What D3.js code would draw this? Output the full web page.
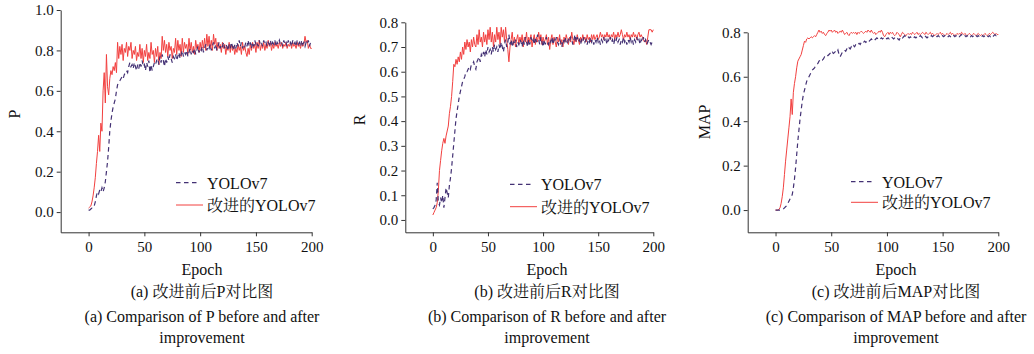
<!DOCTYPE html>
<html><head><meta charset="utf-8">
<script src="https://cdn.jsdelivr.net/npm/d3@7"></script>
<style>
body{margin:0;background:#fff}
text{font-family:"Liberation Serif","Times New Roman","Noto Serif CJK SC","Noto Sans CJK SC",serif;fill:#111}
</style>
</head><body>
<svg id="c" width="1034" height="354"></svg>
<script>
const epochs = d3.range(0, 201);
const xTicks = [0, 50, 100, 150, 200];
const pTicks = [0.0, 0.2, 0.4, 0.6, 0.8, 1.0];
const rTicks = [0.0, 0.1, 0.2, 0.3, 0.4, 0.5, 0.6, 0.7, 0.8];
const mapTicks = [0.0, 0.2, 0.4, 0.6, 0.8];
const legendLabels = ["YOLOv7", "改进的YOLOv7"];

const pImproved = [
0.02,0.025,0.03,0.05,0.08,0.12,0.17,0.24,0.30,0.38,
0.30,0.44,0.40,0.60,0.69,0.54,0.78,0.62,0.58,0.66,
0.70,0.68,0.72,0.70,0.74,0.69,0.84,0.76,0.82,0.78,
0.83,0.75,0.81,0.79,0.84,0.77,0.82,0.80,0.84,0.76,
0.80,0.78,0.82,0.75,0.79,0.77,0.83,0.76,0.81,0.74,
0.80,0.77,0.83,0.75,0.79,0.76,0.84,0.78,0.80,0.74,
0.81,0.77,0.82,0.73,0.79,0.76,0.87,0.80,0.85,0.79,
0.83,0.77,0.84,0.80,0.82,0.76,0.81,0.79,0.86,0.78,
0.85,0.80,0.83,0.77,0.86,0.79,0.84,0.81,0.83,0.78,
0.86,0.80,0.84,0.79,0.82,0.78,0.85,0.81,0.83,0.79,
0.84,0.80,0.85,0.81,0.86,0.80,0.88,0.82,0.87,0.81,
0.85,0.80,0.88,0.83,0.86,0.80,0.84,0.81,0.83,0.79,
0.84,0.81,0.83,0.78,0.82,0.80,0.84,0.79,0.83,0.80,
0.82,0.78,0.81,0.79,0.83,0.80,0.82,0.78,0.84,0.80,
0.82,0.79,0.77,0.81,0.78,0.83,0.80,0.84,0.81,0.83,
0.79,0.84,0.81,0.85,0.80,0.83,0.81,0.84,0.80,0.83,
0.81,0.85,0.82,0.84,0.80,0.83,0.81,0.84,0.82,0.83,
0.81,0.84,0.82,0.84,0.81,0.83,0.82,0.84,0.81,0.83,
0.82,0.84,0.81,0.84,0.82,0.83,0.81,0.84,0.82,0.83,
0.81,0.84,0.82,0.83,0.87,0.84,0.85,0.81,0.83,0.81,
0.81];

const pYolo = [
0.01,0.01,0.015,0.02,0.02,0.03,0.05,0.08,0.10,0.09,
0.11,0.10,0.12,0.10,0.12,0.15,0.20,0.25,0.32,0.40,
0.45,0.49,0.52,0.54,0.56,0.60,0.63,0.64,0.65,0.66,
0.67,0.66,0.68,0.69,0.70,0.69,0.72,0.74,0.72,0.73,
0.71,0.74,0.72,0.70,0.73,0.71,0.74,0.72,0.75,0.72,
0.73,0.70,0.74,0.72,0.75,0.69,0.73,0.70,0.72,0.74,
0.73,0.75,0.76,0.73,0.77,0.74,0.78,0.75,0.72,0.76,
0.74,0.77,0.75,0.78,0.76,0.74,0.77,0.76,0.78,0.75,
0.77,0.79,0.76,0.78,0.80,0.77,0.79,0.78,0.80,0.77,
0.79,0.81,0.78,0.80,0.79,0.81,0.78,0.80,0.82,0.79,
0.81,0.80,0.82,0.79,0.81,0.83,0.80,0.82,0.81,0.83,
0.80,0.82,0.84,0.81,0.83,0.80,0.82,0.84,0.81,0.83,
0.82,0.84,0.81,0.83,0.82,0.80,0.83,0.81,0.84,0.82,
0.80,0.83,0.81,0.84,0.82,0.85,0.82,0.84,0.81,0.83,
0.82,0.84,0.82,0.85,0.82,0.84,0.81,0.84,0.82,0.85,
0.83,0.84,0.82,0.85,0.83,0.84,0.82,0.85,0.83,0.84,
0.82,0.84,0.83,0.85,0.82,0.84,0.83,0.85,0.82,0.84,
0.83,0.85,0.83,0.84,0.82,0.85,0.83,0.84,0.82,0.85,
0.83,0.84,0.82,0.85,0.83,0.84,0.82,0.85,0.83,0.84,
0.82,0.85,0.83,0.84,0.82,0.84,0.83,0.85,0.82,0.84,
0.83];

const rImproved = [
0.02,0.03,0.04,0.05,0.07,0.12,0.20,0.24,0.28,0.31,
0.33,0.31,0.34,0.36,0.38,0.43,0.46,0.50,0.56,0.63,
0.62,0.65,0.63,0.66,0.64,0.68,0.65,0.70,0.67,0.72,
0.69,0.73,0.70,0.72,0.68,0.73,0.70,0.74,0.71,0.70,
0.75,0.71,0.77,0.72,0.74,0.70,0.76,0.72,0.75,0.71,
0.77,0.73,0.78,0.72,0.76,0.70,0.75,0.72,0.78,0.73,
0.76,0.71,0.78,0.74,0.77,0.72,0.78,0.73,0.69,0.64,
0.70,0.73,0.76,0.71,0.74,0.70,0.73,0.75,0.71,0.74,
0.72,0.75,0.70,0.74,0.72,0.76,0.71,0.74,0.72,0.75,
0.70,0.73,0.75,0.71,0.74,0.72,0.76,0.73,0.75,0.71,
0.74,0.72,0.73,0.75,0.71,0.74,0.69,0.73,0.75,0.71,
0.74,0.72,0.70,0.74,0.72,0.75,0.71,0.73,0.70,0.74,
0.72,0.75,0.73,0.71,0.74,0.72,0.76,0.73,0.71,0.74,
0.72,0.75,0.73,0.71,0.74,0.72,0.75,0.73,0.74,0.72,
0.75,0.73,0.74,0.72,0.75,0.73,0.75,0.73,0.74,0.75,
0.73,0.74,0.76,0.74,0.75,0.73,0.75,0.74,0.76,0.74,
0.75,0.73,0.75,0.74,0.76,0.73,0.75,0.74,0.76,0.74,
0.75,0.77,0.75,0.73,0.75,0.74,0.76,0.74,0.75,0.73,
0.75,0.74,0.76,0.74,0.75,0.73,0.75,0.76,0.74,0.75,
0.74,0.73,0.72,0.73,0.71,0.74,0.77,0.77,0.77,0.76,
0.77];

const rYolo = [
0.045,0.05,0.06,0.08,0.15,0.07,0.06,0.09,0.07,0.10,
0.05,0.09,0.13,0.11,0.09,0.14,0.17,0.21,0.26,0.31,
0.36,0.41,0.44,0.47,0.50,0.52,0.54,0.56,0.57,0.58,
0.60,0.60,0.61,0.62,0.61,0.63,0.63,0.64,0.62,0.61,
0.64,0.65,0.66,0.64,0.67,0.66,0.68,0.66,0.69,0.67,
0.70,0.68,0.69,0.67,0.70,0.68,0.71,0.69,0.70,0.68,
0.71,0.69,0.72,0.70,0.68,0.71,0.73,0.70,0.72,0.75,
0.71,0.73,0.70,0.72,0.71,0.73,0.70,0.72,0.71,0.73,
0.72,0.70,0.73,0.71,0.74,0.72,0.70,0.73,0.71,0.74,
0.72,0.73,0.71,0.74,0.72,0.75,0.73,0.71,0.74,0.72,
0.70,0.73,0.71,0.74,0.72,0.71,0.73,0.72,0.74,0.71,
0.73,0.72,0.74,0.72,0.71,0.73,0.72,0.70,0.73,0.72,
0.74,0.72,0.71,0.73,0.72,0.74,0.73,0.71,0.73,0.75,
0.72,0.74,0.72,0.73,0.71,0.73,0.72,0.74,0.72,0.73,
0.71,0.73,0.72,0.74,0.72,0.73,0.71,0.73,0.72,0.74,
0.72,0.73,0.71,0.73,0.72,0.74,0.72,0.73,0.71,0.73,
0.72,0.74,0.72,0.73,0.71,0.73,0.72,0.74,0.72,0.73,
0.71,0.73,0.72,0.74,0.72,0.73,0.71,0.73,0.72,0.74,
0.72,0.73,0.71,0.73,0.72,0.74,0.72,0.73,0.71,0.73,
0.72,0.74,0.72,0.73,0.71,0.72,0.73,0.72,0.71,0.72,
0.72];

const mapImproved = [
0,0,0,0.003,0.01,0.03,0.06,0.10,0.16,0.22,
0.27,0.32,0.37,0.42,0.50,0.43,0.53,0.57,0.60,0.64,
0.67,0.68,0.69,0.70,0.72,0.74,0.76,0.755,0.77,0.775,
0.77,0.775,0.78,0.775,0.78,0.785,0.78,0.79,0.80,0.81,
0.80,0.805,0.795,0.80,0.79,0.785,0.795,0.80,0.81,0.805,
0.81,0.80,0.805,0.81,0.80,0.805,0.795,0.80,0.805,0.80,
0.81,0.80,0.79,0.795,0.80,0.79,0.785,0.795,0.80,0.795,
0.80,0.795,0.80,0.79,0.80,0.795,0.80,0.805,0.80,0.795,
0.80,0.805,0.80,0.81,0.805,0.80,0.81,0.80,0.795,0.80,
0.79,0.795,0.80,0.805,0.80,0.81,0.80,0.785,0.78,0.79,
0.795,0.80,0.79,0.80,0.795,0.80,0.79,0.785,0.79,0.80,
0.795,0.79,0.78,0.79,0.80,0.795,0.79,0.785,0.79,0.795,
0.79,0.795,0.79,0.80,0.795,0.79,0.795,0.80,0.79,0.795,
0.79,0.795,0.80,0.795,0.79,0.80,0.795,0.79,0.795,0.80,
0.79,0.795,0.79,0.785,0.79,0.795,0.79,0.795,0.80,0.79,
0.795,0.79,0.785,0.79,0.795,0.79,0.795,0.80,0.79,0.795,
0.79,0.785,0.79,0.795,0.79,0.795,0.79,0.80,0.795,0.79,
0.795,0.79,0.785,0.79,0.795,0.79,0.785,0.79,0.795,0.79,
0.785,0.79,0.795,0.79,0.785,0.79,0.785,0.79,0.795,0.79,
0.785,0.79,0.795,0.79,0.795,0.80,0.795,0.79,0.795,0.79,
0.79];

const mapYolo = [
0,0,0,0,0,0,0.002,0.005,0.01,0.015,
0.02,0.03,0.04,0.05,0.06,0.07,0.10,0.14,0.19,0.25,
0.31,0.36,0.41,0.45,0.49,0.52,0.54,0.56,0.58,0.59,
0.60,0.61,0.62,0.63,0.635,0.64,0.65,0.655,0.66,0.67,
0.675,0.68,0.675,0.68,0.69,0.695,0.70,0.695,0.70,0.705,
0.70,0.71,0.705,0.71,0.715,0.71,0.72,0.70,0.69,0.70,
0.71,0.715,0.72,0.715,0.725,0.72,0.73,0.725,0.735,0.73,
0.74,0.735,0.745,0.75,0.745,0.75,0.745,0.755,0.75,0.755,
0.76,0.755,0.76,0.765,0.76,0.765,0.77,0.765,0.77,0.765,
0.77,0.775,0.77,0.775,0.77,0.775,0.77,0.775,0.78,0.775,
0.77,0.775,0.77,0.775,0.78,0.775,0.77,0.775,0.78,0.775,
0.77,0.765,0.775,0.78,0.775,0.78,0.785,0.78,0.775,0.78,
0.775,0.78,0.775,0.77,0.775,0.78,0.775,0.78,0.775,0.78,
0.785,0.78,0.775,0.78,0.785,0.78,0.775,0.78,0.785,0.78,
0.785,0.78,0.785,0.78,0.785,0.78,0.785,0.78,0.785,0.78,
0.785,0.78,0.785,0.78,0.785,0.78,0.785,0.78,0.785,0.78,
0.785,0.78,0.785,0.78,0.785,0.78,0.785,0.79,0.785,0.78,
0.785,0.78,0.785,0.78,0.785,0.78,0.785,0.78,0.785,0.78,
0.785,0.78,0.785,0.78,0.785,0.78,0.785,0.78,0.785,0.78,
0.785,0.78,0.785,0.78,0.785,0.78,0.785,0.79,0.785,0.79,
0.785];

const RED = "#f2403f", PURPLE = "#433174";

const panels = [
  {l:60.7, r:311.7, t:10, b:232.3, ymin:-0.1, ymax:1.0, ticks:pTicks, label:"P", labX:20, labY:114,
   base:pYolo, imp:pImproved, legX:176, legY1:182.7, legY2:205, cx:202,
   cn:"(a) 改进前后P对比图", en:"(a) Comparison of P before and after"},
  {l:405.3, r:653.3, t:22.3, b:232.3, ymin:-0.05, ymax:0.8, ticks:rTicks, label:"R", labX:365, labY:120,
   base:rYolo, imp:rImproved, legX:510, legY1:184.3, legY2:206.7, cx:547,
   cn:"(b) 改进前后R对比图", en:"(b) Comparison of R before and after"},
  {l:747.7, r:998.3, t:32.3, b:232.3, ymin:-0.1, ymax:0.8, ticks:mapTicks, label:"MAP", labX:710, labY:122,
   base:mapYolo, imp:mapImproved, legX:851, legY1:181.7, legY2:202.3, cx:896,
   cn:"(c) 改进前后MAP对比图", en:"(c) Comparison of MAP before and after"}
];

const svg = d3.select("#c");

panels.forEach(p => {
  const x = d3.scaleLinear().domain([-25, 200]).range([p.l, p.r]);
  const y = d3.scaleLinear().domain([p.ymin, p.ymax]).range([p.b, p.t]);
  const g = svg.append("g");

  const line = d3.line().x((d, i) => x(epochs[i])).y(d => y(d));

  g.append("path").attr("d", line(p.imp)).attr("fill", "none")
    .attr("stroke", RED).attr("stroke-width", 1).attr("stroke-linejoin", "round");
  g.append("path").attr("d", line(p.base)).attr("fill", "none")
    .attr("stroke", PURPLE).attr("stroke-width", 1.2).attr("stroke-dasharray", "4.5,3.5");

  const xa = g.append("g").attr("transform", `translate(0,${p.b})`)
    .call(d3.axisBottom(x).tickValues(xTicks).tickSize(4).tickSizeOuter(0).tickPadding(5).tickFormat(d3.format("d")));
  const ya = g.append("g").attr("transform", `translate(${p.l},0)`)
    .call(d3.axisLeft(y).tickValues(p.ticks).tickSize(4).tickSizeOuter(0).tickPadding(3).tickFormat(d3.format(".1f")));
  [xa, ya].forEach(a => {
    a.selectAll("path,line").attr("stroke", "#333").attr("stroke-width", 1);
    a.selectAll("text").attr("font-size", 15).attr("font-family", "Liberation Serif").attr("fill", "#111");
  });

  g.append("text").attr("transform", `translate(${p.labX},${p.labY}) rotate(-90)`)
    .attr("text-anchor", "middle").attr("font-size", 16).text(p.label);

  // legend
  g.append("line").attr("x1", p.legX).attr("x2", p.legX + 24).attr("y1", p.legY1).attr("y2", p.legY1)
    .attr("stroke", PURPLE).attr("stroke-width", 1.2).attr("stroke-dasharray", "4.5,3.5");
  g.append("line").attr("x1", p.legX).attr("x2", p.legX + 27).attr("y1", p.legY2).attr("y2", p.legY2)
    .attr("stroke", RED).attr("stroke-width", 1);
  g.append("text").attr("x", p.legX + 31).attr("y", p.legY1 + 6).attr("font-size", 16).text(legendLabels[0]);
  g.append("text").attr("x", p.legX + 31).attr("y", p.legY2 + 6).attr("font-size", 16).text(legendLabels[1]);

  // captions
  const cap = (txt, yy) => g.append("text").attr("x", p.cx).attr("y", yy)
    .attr("text-anchor", "middle").attr("font-size", 16).text(txt);
  cap("Epoch", 275);
  cap(p.cn, 297);
  cap(p.en, 322);
  cap("improvement", 343);
});
</script>
</body></html>
